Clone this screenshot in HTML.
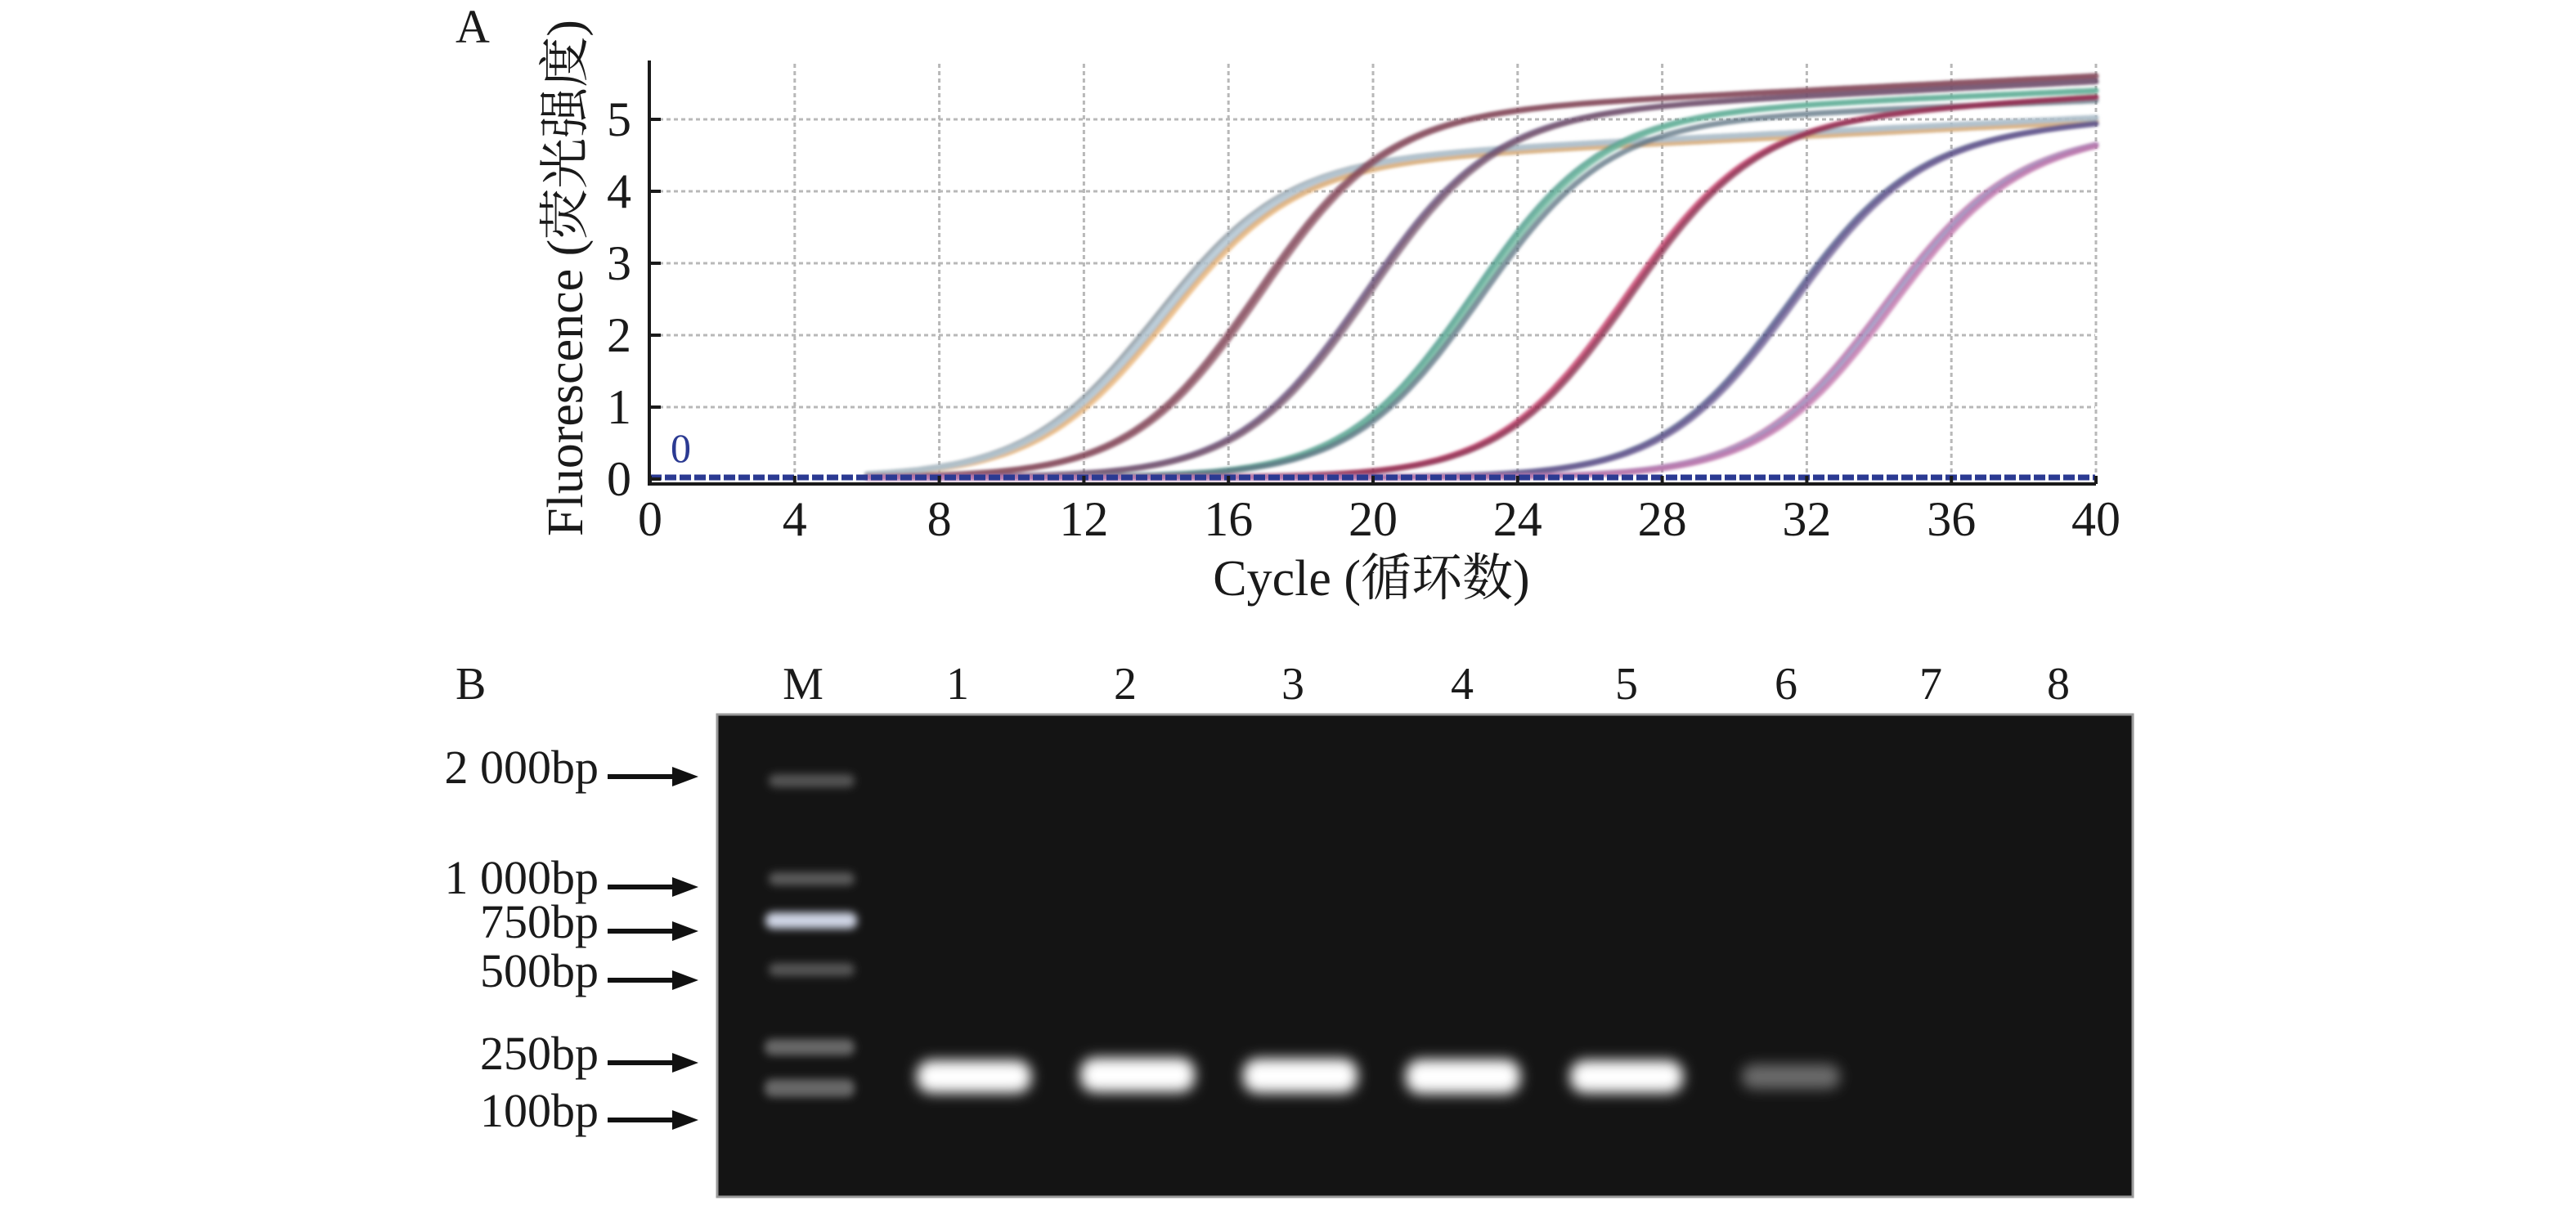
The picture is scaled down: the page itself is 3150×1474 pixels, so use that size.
<!DOCTYPE html>
<html><head><meta charset="utf-8">
<style>
html,body{margin:0;padding:0;background:#fff;}
svg{display:block;}
text{font-family:"Liberation Serif","Noto Serif CJK SC","Noto Sans CJK SC",serif;fill:#1a1a1a;}
</style></head>
<body>
<svg id="s" width="3150" height="1474" viewBox="0 0 3150 1474" xmlns="http://www.w3.org/2000/svg">
<defs>
<filter id="bl" x="-30%" y="-100%" width="160%" height="300%"><feGaussianBlur stdDeviation="5"/></filter>
<filter id="bl2" x="-30%" y="-100%" width="160%" height="300%"><feGaussianBlur stdDeviation="8"/></filter>
<filter id="lb" x="-5%" y="-5%" width="110%" height="110%"><feGaussianBlur stdDeviation="1.5"/></filter>
</defs>
<text x="557" y="52" font-size="58">A</text>
<g id="grid" stroke="#b8b8b8" stroke-width="3" stroke-dasharray="5,4" fill="none"></g>
<g id="curves" fill="none" stroke-width="7" stroke-linecap="round" filter="url(#lb)"></g>
<line x1="795" y1="584" x2="2562" y2="584" stroke="#2b3a92" stroke-width="7" stroke-dasharray="14,4"/>
<text x="820" y="565" font-size="50" fill="#2b3a92" style="fill:#2b3a92">0</text>
<line x1="794" y1="74" x2="794" y2="594" stroke="#1a1a1a" stroke-width="4"/>
<line x1="792" y1="592" x2="2563" y2="592" stroke="#1a1a1a" stroke-width="4"/>
<g id="ticks" stroke="#1a1a1a" stroke-width="4"></g>
<g id="tl" font-size="60" text-anchor="middle"></g>
<text x="1677" y="728" font-size="62" text-anchor="middle">Cycle (循环数)</text>
<text transform="translate(712,340) rotate(-90)" font-size="62" text-anchor="middle">Fluorescence (荧光强度)</text>

<text x="557" y="855" font-size="56">B</text>
<g font-size="56" text-anchor="middle">
<text x="982" y="855">M</text><text x="1171" y="855">1</text><text x="1376" y="855">2</text><text x="1581" y="855">3</text><text x="1788" y="855">4</text><text x="1989" y="855">5</text><text x="2184" y="855">6</text><text x="2361" y="855">7</text><text x="2517" y="855">8</text>
</g>
<rect x="877" y="874" width="1731" height="590" fill="#141414" stroke="#9a9a9a" stroke-width="3"/>
<g filter="url(#bl)" fill="#8a8a8a">
<rect x="940" y="947" width="105" height="16" rx="8" opacity="0.55"/>
<rect x="940" y="1067" width="105" height="16" rx="8" opacity="0.6"/>
<rect x="936" y="1116" width="112" height="20" rx="9" fill="#d0d6e6"/>
<rect x="940" y="1178" width="105" height="16" rx="8" opacity="0.55"/>
<rect x="935" y="1271" width="110" height="20" rx="9" opacity="0.7"/>
<rect x="935" y="1320" width="110" height="22" rx="9" opacity="0.7"/>
</g>
<g filter="url(#bl2)" fill="#fff">
<rect x="1121" y="1297" width="140" height="40" rx="18"/>
<rect x="1321" y="1294" width="140" height="42" rx="18"/>
<rect x="1520" y="1295" width="140" height="42" rx="18"/>
<rect x="1719" y="1296" width="140" height="42" rx="18"/>
<rect x="1920" y="1297" width="138" height="40" rx="18"/>
<rect x="2130" y="1302" width="120" height="30" rx="14" fill="#6a6a6a"/>
</g>
<g font-size="58" text-anchor="end">
<text x="732" y="958">2 000bp</text>
<text x="732" y="1093">1 000bp</text>
<text x="732" y="1147">750bp</text>
<text x="732" y="1207">500bp</text>
<text x="732" y="1308">250bp</text>
<text x="732" y="1378">100bp</text>
</g>
<g id="arrows" stroke="#111" stroke-width="6" fill="#111"></g>
</svg>
<script>
const NS="http://www.w3.org/2000/svg";
function el(p,t,a){const e=document.createElementNS(NS,t);for(const k in a)e.setAttribute(k,a[k]);document.getElementById(p).appendChild(e);return e;}
const X=c=>795+c*44.2, Y=f=>586-f*88;
for(let c=4;c<=40;c+=4){el("grid","line",{x1:X(c),y1:78,x2:X(c),y2:590});}
for(let f=1;f<=5;f++){el("grid","line",{x1:797,y1:Y(f),x2:2562,y2:Y(f)});}
for(let c=0;c<=40;c+=4){el("ticks","line",{x1:X(c),y1:592,x2:X(c),y2:582});const t=el("tl","text",{x:X(c),y:655});t.textContent=c;}
for(let f=0;f<=5;f++){el("ticks","line",{x1:794,y1:Y(f),x2:808,y2:Y(f)});const t=el("tl","text",{x:757,y:Y(f)+20});t.textContent=f;}
const groups=[
 [14.1,1.77,4.3,0.025,["#9ab0c0","#e8b070"]],
 [13.9,1.77,4.35,0.025,["#7f8c96","#b9ccd8"]],
 [16.7,1.75,5.0,0.025,["#7a3a50","#8a5060"]],
 [19.7,1.75,5.0,0.025,["#5a4070","#7a5870"]],
 [22.7,1.75,5.0,0.022,["#3a9080","#70b8a0"]],
 [22.9,1.75,4.9,0.02,["#5a7080"]],
 [26.9,1.75,4.9,0.03,["#c03060","#8a3050"]],
 [31.4,1.75,4.7,0.03,["#404a80","#6a5a90"]],
 [34.0,1.75,4.6,0.03,["#b060a0","#9aa0c8","#c070a8"]]
];
groups.forEach(g=>{const[c,k,P,s,cols]=g;cols.forEach((col,i)=>{let d="";for(let x=6;x<=40.001;x+=0.2){const L=1/(1+Math.exp(-(x-c-i*0.12)/k));const f=P*L+s*Math.max(0,x-c)*L+0.02;d+=(d?"L":"M")+X(x).toFixed(1)+","+Y(f).toFixed(1);}el("curves","path",{d:d,stroke:col,"stroke-opacity":0.75});});});
[950,1085,1139,1199,1300,1370].forEach(y=>{el("arrows","line",{x1:743,y1:y,x2:826,y2:y});el("arrows","polygon",{points:`822,${y-12} 854,${y} 822,${y+12}`,stroke:"none"});});
</script>
</body></html>
